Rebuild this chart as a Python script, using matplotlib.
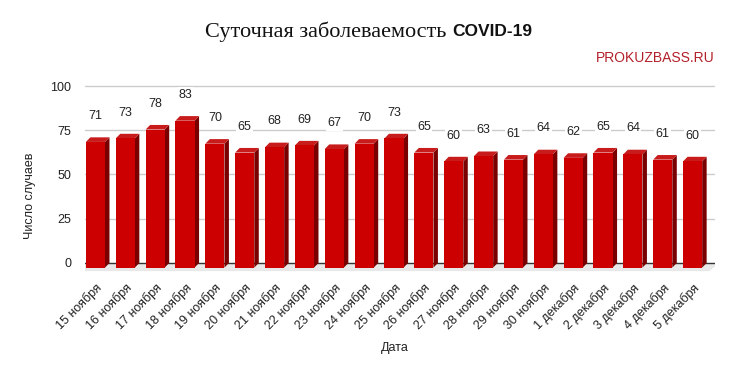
import matplotlib.pyplot as plt
from matplotlib.patches import Polygon

# data
dates = ['15 ноября', '16 ноября', '17 ноября', '18 ноября', '19 ноября',
         '20 ноября', '21 ноября', '22 ноября', '23 ноября', '24 ноября',
         '25 ноября', '26 ноября', '27 ноября', '28 ноября', '29 ноября',
         '30 ноября', '1 декабря', '2 декабря', '3 декабря', '4 декабря',
         '5 декабря']
cases = [71, 73, 78, 83, 70, 65, 68, 69, 67, 70, 73, 65, 60, 63, 61, 64,
         62, 65, 64, 61, 60]
yticks = [0, 25, 50, 75, 100]

plt.rcParams['font.family'] = ['Liberation Sans', 'DejaVu Sans']

fig = plt.figure(figsize=(7.33, 3.74), dpi=100)
W, H = 733, 374
ax = fig.add_axes([85 / W, 1 - 272 / H, (715 - 85) / W, (272 - 80) / H])
ax.set_xlim(-0.35, 20.75)
ax.set_ylim(-5.1, 103.4)

# grid (back wall)
for t in yticks:
    ax.axhline(t, color='#333333' if t == 0 else '#cccccc', lw=1, zorder=1)

# floor
fl = Polygon([(-0.7, -4.6), (20.55, -4.6), (20.9, 0), (-0.35, 0)],
             closed=True, facecolor='#e8e8e8', edgecolor='none', zorder=0.5)
ax.add_patch(fl)

# 3d bars: back edge sits at the value, front face shifted down-left
bw = 0.64
dx, dy = 0.15, 2.6
for i, v in enumerate(cases):
    x0 = i - bw / 2
    x1 = i + bw / 2
    b = -dy
    t = v - dy
    ax.add_patch(Polygon([(x1, b), (x1 + dx, 0), (x1 + dx, v), (x1, t)],
                         facecolor='#7a0000', edgecolor='none', zorder=2))
    ax.add_patch(Polygon([(x0, t), (x1, t), (x1 + dx, v), (x0 + dx, v)],
                         facecolor='#c81c1c', edgecolor='none', zorder=2))
    ax.bar(i, v, bottom=b, width=bw, color='#cc0000', zorder=3)
    ax.text(i, v + 12, str(v), ha='center', va='center', fontsize=9,
            color='#222222', zorder=4,
            bbox=dict(facecolor='white', edgecolor='none', pad=1))

ax.set_yticks(yticks)
ax.set_xticks(range(len(dates)))
ax.set_xticklabels(dates, rotation=45, ha='right', rotation_mode='anchor',
                   fontsize=9, color='#222222')
ax.tick_params(axis='y', labelsize=9, colors='#222222', length=0, pad=10)
ax.tick_params(axis='x', length=0, pad=7)
for s in ax.spines.values():
    s.set_visible(False)

fig.text(446 / W, 1 - 32 / H, 'Суточная заболеваемость', ha='right',
         va='center', fontsize=16, family='Liberation Serif', color='#111111')
fig.text(452 / W, 1 - 31 / H, 'COVID-19', ha='left', va='center',
         fontsize=12.5, fontweight='heavy', color='#111111')
fig.text(655 / W, 1 - 58 / H, 'PROKUZBASS.RU', ha='center', va='center',
         fontsize=10, color='#b3202a')
fig.text(30 / W, 1 - 196 / H, 'Число случаев', rotation=90, ha='center',
         va='center', fontsize=9, color='#222222')
fig.text(395 / W, 1 - 348 / H, 'Дата', ha='center', va='center',
         fontsize=9, color='#222222')

fig.savefig('out.png', dpi=100)
